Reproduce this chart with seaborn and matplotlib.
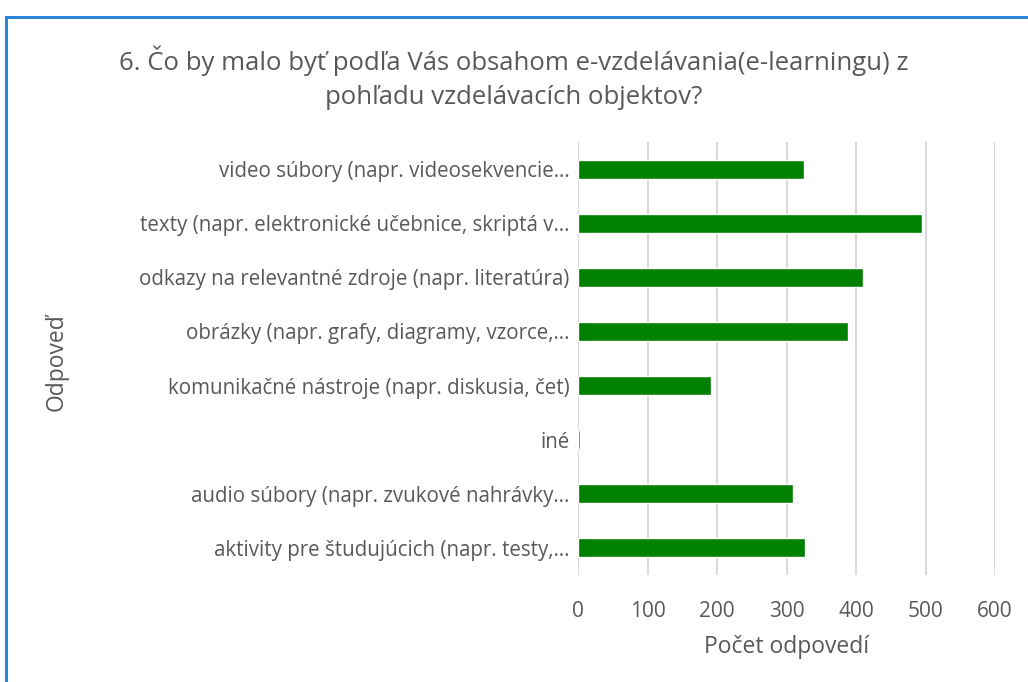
import matplotlib
matplotlib.use("Agg")
import matplotlib.pyplot as plt
import seaborn as sns
import pandas as pd
from matplotlib.patches import Rectangle

categories = [
    "video súbory (napr. videosekvencie…",
    "texty (napr. elektronické učebnice, skriptá v…",
    "odkazy na relevantné zdroje (napr. literatúra)",
    "obrázky (napr. grafy, diagramy, vzorce,…",
    "komunikačné nástroje (napr. diskusia, čet)",
    "iné",
    "audio súbory (napr. zvukové nahrávky…",
    "aktivity pre študujúcich (napr. testy,…",
]
counts = [325, 495, 410, 388, 191, 3, 309, 327]
xticks = [0, 100, 200, 300, 400, 500, 600]

df = pd.DataFrame({"odpoved": categories, "pocet": counts})

sns.set_style("white")
plt.rcParams["font.family"] = ["Open Sans", "DejaVu Sans"]
grey = "#595959"

fig = plt.figure(figsize=(10.28, 6.82), dpi=100)
ax = fig.add_axes([578 / 1028, 1 - 575 / 682, 417 / 1028, 433 / 682])

sns.barplot(data=df, x="pocet", y="odpoved", color="#008000",
            width=0.35, saturation=1, ax=ax, zorder=3)

ax.set_xlim(0, 600)
ax.set_xticks(xticks)
ax.set_xticklabels([str(t) for t in xticks], color=grey, fontsize=15)
ax.tick_params(axis="y", labelsize=14.8, labelcolor=grey, length=0, pad=6)
ax.tick_params(axis="x", length=0, pad=19)
ax.grid(axis="x", color="#D9D9D9", linewidth=1.5, zorder=0)
ax.set_axisbelow(True)
for s in ax.spines.values():
    s.set_visible(False)

ax.set_xlabel("Počet odpovedí", fontsize=16.5, color=grey, labelpad=9)
ax.set_ylabel("")
fig.text(57 / 1028, 1 - 362 / 682, "Odpoveď", rotation=90, fontsize=16.5,
         color=grey, ha="center", va="center")

fig.text(0.5, 1 - 78 / 682,
         "6. Čo by malo byť podľa Vás obsahom e-vzdelávania(e-learningu) z\npohľadu vzdelávacích objektov?",
         ha="center", va="center", fontsize=18.5, color=grey, linespacing=1.45)

# blue frame around the chart
fig.patches.append(Rectangle((6 / 1028, -0.1), 1.2, 1 - 17 / 682 + 0.1,
                             transform=fig.transFigure, fill=False,
                             edgecolor="#2A85D8", linewidth=2.2))

fig.savefig("out.png", dpi=100)
